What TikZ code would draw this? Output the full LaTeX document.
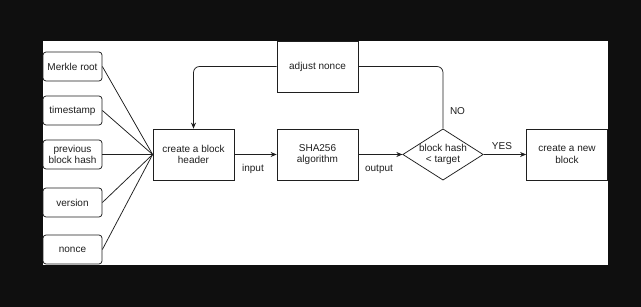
\documentclass[tikz,border=0pt]{standalone}
\usepackage{fontspec}
\setmainfont{Liberation Sans}
\usetikzlibrary{arrows.meta,calc,shapes.geometric}
\definecolor{FrameClr}{rgb}{0.06,0.06,0.06}
\definecolor{LineClr}{rgb}{0.12,0.12,0.12}

\begin{document}
\begin{tikzpicture}[x=1pt,y=1pt,
  txt/.style={font=\fontsize{10}{11.5}\selectfont,text=LineClr,align=center},
  field/.style={txt,draw=LineClr,line width=.75pt,rounded corners=3pt,minimum width=59pt,minimum height=29pt,inner sep=0pt},
  stepbox/.style={txt,draw=LineClr,line width=.75pt,minimum width=81pt,minimum height=51pt,inner sep=0pt},
  testbox/.style={txt,draw=LineClr,line width=.75pt,shape=diamond,aspect=1.57,minimum width=80pt,minimum height=51pt,inner sep=0pt},
  link/.style={draw=LineClr,line width=.75pt},
  flow/.style={link,-{Stealth[length=6pt,width=5pt]}}]
\useasboundingbox (0,0) rectangle (641,307);
\fill[FrameClr] (0,0) rectangle (641,307);
\fill[white] (43,42) rectangle (608,266);

\node[field] (root) at (72.5,240.5) {Merkle root};
\node[field] (time) at (72.5,196.5) {timestamp};
\node[field] (prev) at (72.5,152.5) {previous\\block hash};
\node[field] (ver) at (72.5,104.5) {version};
\node[field] (nonce) at (72.5,57.5) {nonce};

\node[stepbox] (header) at (193.5,152.5) {create a block\\header};
\node[stepbox] (sha) at (317.5,152.5) {SHA256\\algorithm};
\node[stepbox] (adjust) at (317.5,240.5) {adjust nonce};
\node[testbox] (check) at (443,152.5) {block hash\\< target};
\node[stepbox] (newblock) at (567,152.5) {create a new\\block};

\foreach \f in {root,time,prev,ver,nonce}
  \draw[link] (\f.east) -- (header.west);

\draw[flow] (header) -- (sha);
\draw[flow] (sha) -- (check);
\draw[flow] (check) -- (newblock);
\draw[link,rounded corners=6pt] (check.north) |- (adjust.east);
\draw[flow,rounded corners=6pt] (adjust.west) -| (header.north);

\node[txt] (input) at (253,138) {input};
\node[txt] (output) at (379,138) {output};
\node[txt] (yes) at (502,161) {YES};
\node[txt] (no) at (457.5,196) {NO};

\end{tikzpicture}
\end{document}
